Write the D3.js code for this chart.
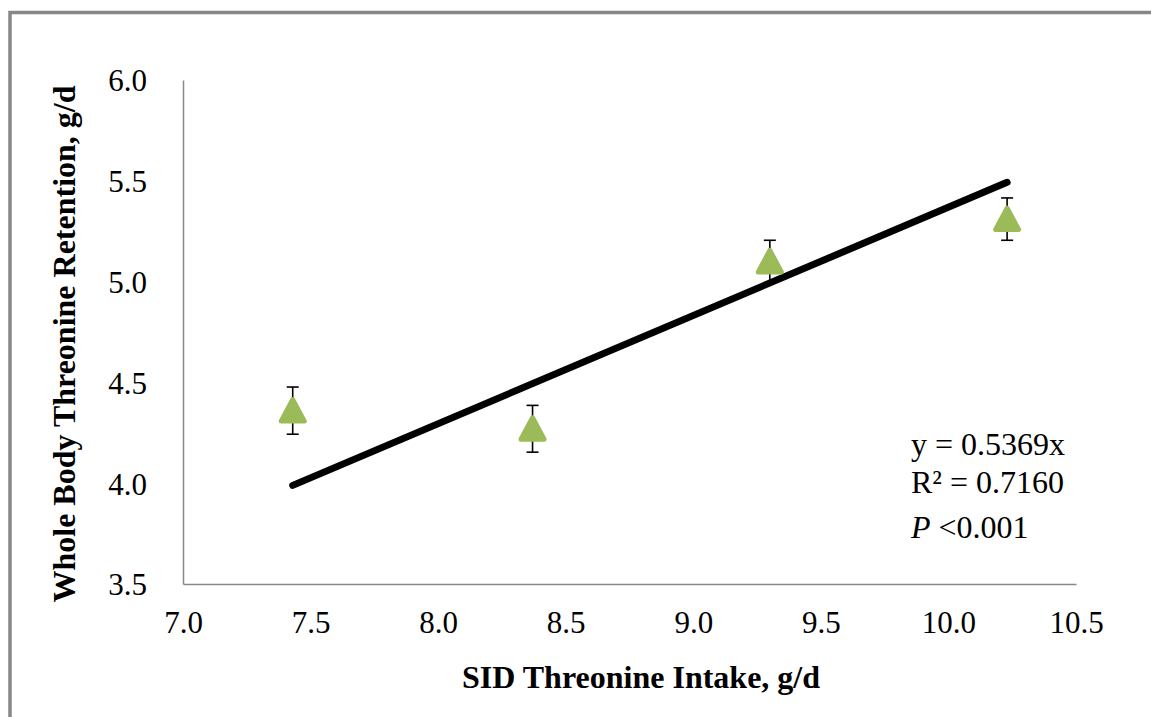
<!DOCTYPE html>
<html>
<head>
<meta charset="utf-8">
<script src="https://cdn.jsdelivr.net/npm/d3@7"></script>
<style>
  html, body { margin: 0; padding: 0; background: #fff; }
  svg { display: block; }
</style>
</head>
<body>
<svg id="chart" width="1151" height="717"></svg>
<script>
// ---- data ----
const intake = [7.43, 8.37, 9.30, 10.23];          // SID Threonine Intake, g/d
const retention = [4.36, 4.27, 5.10, 5.31];        // Whole body Thr retention, g/d
const errors = [0.117, 0.116, 0.105, 0.105];       // SE
const slope = 0.5369;
const xTicks = [7.0, 7.5, 8.0, 8.5, 9.0, 9.5, 10.0, 10.5];
const yTicks = [3.5, 4.0, 4.5, 5.0, 5.5, 6.0];
const xTitle = "SID Threonine Intake, g/d";
const yTitle = "Whole Body Threonine Retention, g/d";
const eqLines = ["y = 0.5369x", "R² = 0.7160"];

const svg = d3.select("#chart");
const W = 1151, H = 717;
const plot = { left: 183, right: 1076, top: 80, bottom: 584 };

const x = d3.scaleLinear().domain([7.0, 10.5]).range([plot.left, plot.right]);
const y = d3.scaleLinear().domain([3.5, 6.0]).range([plot.bottom, plot.top]);

// frame
svg.append("rect").attr("x", 10).attr("y", 12.5).attr("width", W + 20).attr("height", H + 20)
  .attr("fill", "none").attr("stroke", "#878787").attr("stroke-width", 3.5);

const font = "'Liberation Serif', 'Times New Roman', serif";

// axes
const xAxis = svg.append("g").attr("transform", `translate(0,${plot.bottom})`)
  .call(d3.axisBottom(x).tickValues(xTicks).tickFormat(d3.format(".1f")).tickSize(0).tickPadding(27));
const yAxis = svg.append("g").attr("transform", `translate(${plot.left},0)`)
  .call(d3.axisLeft(y).tickValues(yTicks).tickFormat(d3.format(".1f")).tickSize(0).tickPadding(36));
[xAxis, yAxis].forEach(g => {
  g.select(".domain").attr("stroke", "#898989").attr("stroke-width", 1.5);
  g.selectAll("text").attr("font-family", font).attr("font-size", 31).attr("fill", "#000");
});
xAxis.selectAll("text").attr("dy", "0.71em");
yAxis.selectAll("text").attr("dy", "0.35em");

// trendline
const xr = d3.extent(intake);
svg.append("line")
  .attr("x1", x(xr[0])).attr("y1", y(slope * xr[0]))
  .attr("x2", x(xr[1])).attr("y2", y(slope * xr[1]))
  .attr("stroke", "#000").attr("stroke-width", 7).attr("stroke-linecap", "round");

// error bars
const pts = intake.map((v, i) => ({ x: v, y: retention[i], e: errors[i] }));
const eb = svg.append("g").attr("stroke", "#000").attr("stroke-width", 1.6);
pts.forEach(p => {
  const cx = x(p.x), yt = y(p.y + p.e), yb = y(p.y - p.e);
  eb.append("line").attr("x1", cx).attr("x2", cx).attr("y1", yt).attr("y2", yb);
  eb.append("line").attr("x1", cx - 6).attr("x2", cx + 6).attr("y1", yt).attr("y2", yt);
  eb.append("line").attr("x1", cx - 6).attr("x2", cx + 6).attr("y1", yb).attr("y2", yb);
});

// triangle markers (rounded)
const tri = "M0,-11 L11.5,10.5 L-11.5,10.5 Z";
svg.append("g").selectAll("path").data(pts).join("path")
  .attr("d", tri)
  .attr("transform", d => `translate(${x(d.x)},${y(d.y)})`)
  .attr("fill", "#9BBB59").attr("stroke", "#9BBB59")
  .attr("stroke-width", 5).attr("stroke-linejoin", "round");

// equation text
const eq = svg.append("g").attr("font-family", font).attr("font-size", 32).attr("fill", "#000");
eqLines.forEach((t, i) => {
  eq.append("text").attr("x", 911).attr("y", 455 + i * 38).text(t);
});
const pt = eq.append("text").attr("x", 911).attr("y", 538);
pt.append("tspan").attr("font-style", "italic").text("P");
pt.append("tspan").text(" <0.001");

// axis titles
svg.append("text")
  .attr("x", 641).attr("y", 688)
  .attr("text-anchor", "middle")
  .attr("font-family", font).attr("font-size", 32).attr("font-weight", "bold")
  .text(xTitle);
svg.append("text")
  .attr("transform", `translate(75,344) rotate(-90)`)
  .attr("text-anchor", "middle")
  .attr("font-family", font).attr("font-size", 32).attr("font-weight", "bold")
  .text(yTitle);
</script>
</body>
</html>
